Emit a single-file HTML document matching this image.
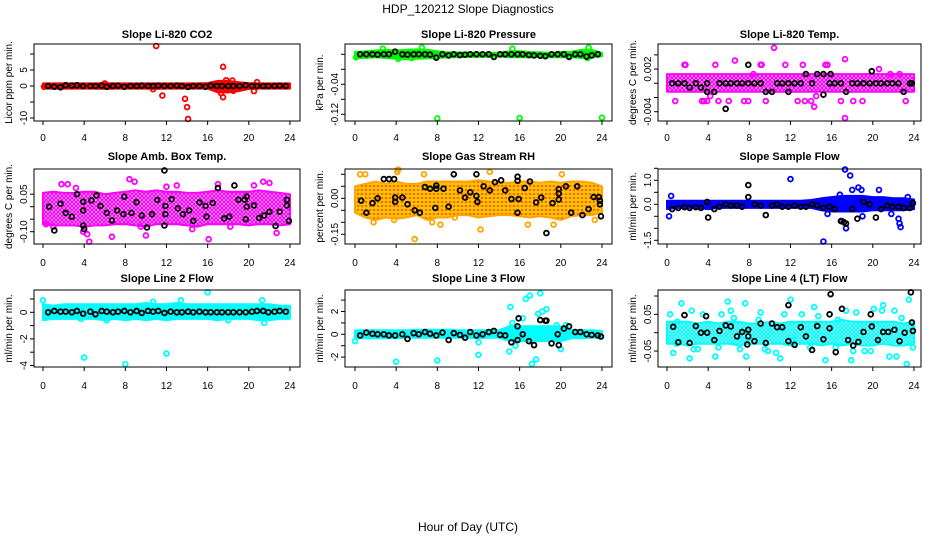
<!DOCTYPE html>
<html><head><meta charset="utf-8"><title>HDP_120212 Slope Diagnostics</title>
<style>
html,body{margin:0;padding:0;background:#fff;}
svg{display:block;font-family:"Liberation Sans",sans-serif;}
</style></head>
<body>
<svg id="chart" width="936" height="540" viewBox="0 0 936 540" xmlns="http://www.w3.org/2000/svg">
<defs>
<pattern id="pat-magenta" width="4" height="4" patternUnits="userSpaceOnUse"><rect width="4" height="4" fill="#ffffff"/><circle cx="2" cy="2" r="1.5" fill="none" stroke="#ff00ff" stroke-width="1.4"/></pattern>
<pattern id="pat-rh" width="4" height="4" patternUnits="userSpaceOnUse"><rect width="4" height="4" fill="#ffc000"/><circle cx="2" cy="2" r="0.9" fill="#ff2000"/></pattern>
<pattern id="pat-cyan" width="4" height="4" patternUnits="userSpaceOnUse"><rect width="4" height="4" fill="#ffffff"/><circle cx="2" cy="2" r="1.5" fill="none" stroke="#00ffff" stroke-width="1.4"/></pattern>
</defs>
<text x="468" y="13" text-anchor="middle" font-size="12">HDP_120212  Slope Diagnostics</text>
<text x="468" y="531" text-anchor="middle" font-size="12">Hour of Day (UTC)</text>
</svg>
<script>
// ---------- shared data ----------
const bandHours = [0,1,2,3,4,5,6,7,8,9,10,11,12,13,14,15,16,17,18,19,20,21,22,23,24];
const hourlyX = [0.5,1.1,1.7,2.2,2.8,3.3,3.9,4.6,5.1,5.7,6.2,6.8,7.3,7.9,8.5,9.1,9.6,10.2,10.7,11.2,11.8,12.4,13.0,13.5,14.1,14.6,15.2,15.8,16.3,16.9,17.4,18.0,18.5,19.1,19.7,20.3,20.8,21.4,21.9,22.5,23.0,23.6];
const xTicks = [0,4,8,12,16,20,24];

// ---------- CO2 ----------
const co2BandLo = [-0.8,-0.8,-0.8,-0.8,-0.8,-0.8,-0.9,-0.8,-0.8,-0.8,-0.8,-0.9,-0.8,-0.8,-0.8,-0.8,-0.8,-2.0,-2.0,-1.6,-0.9,-0.8,-0.8,-0.8,-0.8];
const co2BandHi = [0.8,0.8,0.8,0.8,0.8,0.8,0.9,0.8,0.8,0.8,0.8,0.8,0.8,0.8,0.8,0.8,0.9,1.6,1.6,1.2,0.9,0.8,0.8,0.8,0.8];
const co2PtsX = [11.0,11.6,13.8,14.0,14.1,17.5,17.5,17.8,18.4,18.5,20.5,20.8,0.1,6.0,10.7,17.3,17.9];
const co2PtsY = [12.5,-3.0,-4.0,-6.6,-10.3,6.0,-3.5,1.8,1.7,-1.5,-1.6,1.2,-0.2,0.8,-1.0,-2.2,-1.3];
const co2BlackY = [0,-0.2,-0.4,0.2,0.1,0.2,0,0,0,0.1,-0.2,0,0.1,-0.2,0,0,0.1,0,0,0.1,0,0,0.1,0,-0.3,0,0,-0.2,0.1,0,0,0,0,0,0.2,0,0,0,0,0,0.1,0];
const co2Ticks = [-10,-5,0,5,10];
const co2TickLabels = ["-10","","0","5",""];

// ---------- Pressure ----------
const presBandLo = [0.030,0.030,0.032,0.030,0.028,0.027,0.028,0.029,0.030,0.032,0.032,0.033,0.033,0.033,0.034,0.032,0.032,0.032,0.033,0.032,0.032,0.032,0.030,0.032,0.035];
const presBandHi = [0.046,0.048,0.050,0.052,0.050,0.052,0.053,0.052,0.048,0.045,0.045,0.044,0.044,0.044,0.044,0.048,0.048,0.046,0.045,0.044,0.046,0.047,0.052,0.052,0.044];
const presPtsX = [8.0,16.0,24.0,2.7,6.5,15.3,22.7,5.5,4.2,0.1,22.6];
const presPtsY = [-0.131,-0.130,-0.129,0.055,0.058,0.055,0.058,0.030,0.028,0.032,0.030];
const presBlackY = [0.04,0.04,0.04,0.039,0.04,0.04,0.047,0.04,0.039,0.04,0.04,0.04,0.039,0.031,0.04,0.037,0.04,0.038,0.039,0.04,0.04,0.04,0.04,0.033,0.04,0.04,0.04,0.04,0.04,0.038,0.037,0.036,0.035,0.04,0.04,0.04,0.033,0.04,0.04,0.034,0.037,0.04];
const presTicks = [0.04,0,-0.04,-0.08,-0.12];
const presTickLabels = ["","","-0.04","","-0.12"];

// ---------- Li-820 Temp ----------
const tempBandLo = [-0.0012,-0.0012,-0.0012,-0.0012,-0.0012,-0.0012,-0.0012,-0.0012,-0.0012,-0.0012,-0.0012,-0.0012,-0.0012,-0.0012,-0.0012,-0.0012,-0.0012,-0.0012,-0.0012,-0.0012,-0.0012,-0.0012,-0.0012,-0.0012,-0.0012];
const tempBandHi = [0.0013,0.0013,0.0013,0.0013,0.0013,0.0013,0.0013,0.0013,0.0013,0.0013,0.0013,0.0013,0.0013,0.0013,0.0013,0.0013,0.0013,0.0013,0.0013,0.0013,0.0013,0.0013,0.0013,0.0013,0.0013];
const tempPtsX = [0.8,1.7,1.8,3.4,3.6,4.7,6.6,6.0,7.9,8.4,9.1,9.2,9.6,10.4,11.5,13.2,13.4,14.0,14.3,15.4,15.6,16.9,17.3,17.3,18.1,19.0,20.6,21.7,22.6,23.2,12.7,5.0,7.5,3.9,4.2,14.5];
const tempPtsY = [-0.0025,0.0026,0.0026,-0.0025,-0.0025,0.0026,0.0032,-0.0025,-0.0025,0.0013,0.0026,0.0026,-0.0025,0.005,0.0026,0.0026,-0.0025,-0.0025,-0.0033,0.0026,0.0026,-0.0025,0.0034,-0.0049,-0.0025,-0.0025,0.002,0.0013,0.0013,-0.0025,-0.0025,-0.0025,-0.0025,-0.0025,-0.0018,-0.0018];
const tempBlackX = [...hourlyX, 7.9, 15.9, 19.9, 5.7, 15.2, 3.9, 11.8, 23.8];
const tempBlackY = [0,0,0,-0.0006,0,-0.0006,0,-0.0012,0,0,0,0,0,0,0,0,-0.0012,-0.0012,0,0,0,0,0,0.0013,0,0.0013,0.0013,0,0,0,-0.0012,0,0,0,0,0,0,0,0,0,-0.0012,0,0.0026,0.0013,0.0017,-0.0036,-0.0016,-0.0012,-0.0012,0];
const tempTicks = [0.004,0.002,0,-0.002,-0.004];
const tempTickLabels = ["","0.002","","","-0.004"];

// ---------- Amb. Box Temp ----------
const ambBandLo = [-0.07,-0.075,-0.075,-0.075,-0.08,-0.075,-0.075,-0.07,-0.07,-0.075,-0.08,-0.07,-0.07,-0.07,-0.075,-0.08,-0.07,-0.07,-0.07,-0.07,-0.075,-0.07,-0.07,-0.075,-0.07];
const ambBandHi = [0.055,0.06,0.055,0.055,0.06,0.06,0.05,0.055,0.06,0.065,0.06,0.065,0.06,0.06,0.055,0.055,0.06,0.065,0.06,0.06,0.06,0.065,0.06,0.055,0.05];
const ambPtsX = [0.3,1.8,2.4,4.3,4.5,6.7,8.4,8.9,10.0,13.0,16.1,17.0,21.4,22.0,22.7,9.5,3.9,3.2,14.5,18.2,1.0,12.0,20.5];
const ambPtsY = [-0.07,0.09,0.09,-0.11,-0.14,-0.12,0.11,0.10,-0.115,0.085,-0.13,0.09,0.10,0.095,-0.105,-0.08,-0.10,0.075,-0.09,-0.08,-0.08,0.08,0.085];
const ambBlackX = [0.6,1.1,1.7,2.2,2.8,3.3,3.9,3.9,3.9,4.0,4.7,5.2,5.6,6.2,6.7,7.2,7.8,7.9,8.6,9.1,9.6,10.1,10.6,11.1,11.8,11.9,11.8,11.9,12.5,13.1,13.6,14.2,14.6,15.2,15.8,15.9,16.5,17.0,17.6,18.1,18.6,19.0,19.6,19.7,19.8,19.8,20.5,21.0,21.5,22.0,22.6,23.0,23.7,23.7,23.9];
const ambBlackY = [0,-0.095,0.012,-0.025,-0.04,0.05,0.02,-0.015,-0.075,-0.09,0.025,0.045,0.003,-0.025,-0.055,-0.015,-0.03,0.04,-0.025,0.018,-0.035,-0.083,-0.03,0.027,0.145,0.003,-0.075,-0.03,0.03,-0.007,-0.03,-0.015,-0.057,0.017,0.003,-0.04,0.015,0.075,-0.047,-0.04,0.085,0.028,0.028,-0.05,0,0.04,0.005,-0.045,-0.035,-0.02,-0.077,-0.02,0.028,0.005,-0.057];
const ambTicks = [0.05,0,-0.05,-0.10];
const ambTickLabels = ["0.05","","","-0.10"];

// ---------- Gas Stream RH ----------
const rhBandLo = [-0.06,-0.08,-0.09,-0.08,-0.085,-0.08,-0.07,-0.09,-0.08,-0.08,-0.07,-0.07,-0.08,-0.075,-0.07,-0.07,-0.075,-0.08,-0.075,-0.08,-0.09,-0.075,-0.07,-0.07,-0.06];
const rhBandHi = [0.05,0.06,0.07,0.06,0.07,0.06,0.06,0.07,0.07,0.07,0.07,0.07,0.075,0.07,0.065,0.065,0.07,0.07,0.065,0.07,0.065,0.07,0.07,0.065,0.05];
const rhPtsX = [0.5,1.0,4.2,6.7,5.8,12.2,13.1,16.8,19.3,8.3,1.8,23.3,4.1,7.5,3.8,9.7,20.1];
const rhPtsY = [0.10,0.10,0.12,0.10,-0.17,-0.13,0.11,-0.11,-0.11,-0.11,-0.10,-0.09,0.11,-0.1,-0.09,-0.08,0.1];
const rhBlackX = [0.6,1.1,1.7,2.2,2.8,3.3,3.8,3.9,3.9,4.6,5.1,5.8,6.3,6.8,7.3,7.9,7.9,7.8,8.6,9.1,9.6,10.2,10.7,11.2,11.8,11.8,11.9,12.5,13.1,13.6,14.2,14.6,15.2,15.8,15.8,15.9,15.8,16.5,17.0,17.6,18.1,18.6,19.2,19.8,19.8,19.8,20.5,21.0,21.6,22.1,22.7,23.2,23.7,23.8,23.8,23.9];
const rhBlackY = [-0.01,-0.06,-0.02,0.0,0.08,0.08,0.08,0.003,-0.015,0.003,-0.025,-0.05,-0.06,0.047,0.04,0.053,0.04,-0.04,0.04,-0.035,0.1,0.033,0.003,0.025,0.1,0.01,-0.015,0.05,0.033,0.067,0.075,0.033,-0.003,0.09,0.073,-0.003,-0.06,0.043,0.07,-0.017,0.003,-0.145,-0.02,0.038,0.02,-0.005,0.05,-0.06,0.05,-0.07,-0.045,0.005,0.005,-0.01,-0.025,-0.075];
const rhTicks = [0.10,0.05,0,-0.05,-0.10,-0.15];
const rhTickLabels = ["","","0.00","","","-0.15"];

// ---------- Sample Flow ----------
const sampBandLo = [-0.2,-0.15,-0.15,-0.15,-0.2,-0.15,-0.15,-0.15,-0.15,-0.15,-0.15,-0.15,-0.15,-0.15,-0.15,-0.25,-0.3,-0.3,-0.3,-0.3,-0.25,-0.25,-0.25,-0.25,-0.2];
const sampBandHi = [0.15,0.15,0.15,0.15,0.15,0.15,0.15,0.15,0.15,0.15,0.15,0.15,0.15,0.15,0.18,0.25,0.3,0.35,0.35,0.35,0.3,0.3,0.25,0.25,0.2];
const sampPtsX = [0.2,0.4,12.0,15.2,17.3,17.8,18.0,18.6,18.9,20.6,17.0,17.4,22.5,22.6,22.7,19.0,16.8,15.6,21.8,23.4];
const sampPtsY = [-0.5,0.35,1.05,-1.55,1.45,1.2,0.6,0.7,0.6,0.6,-0.7,-1.0,-0.6,-0.8,-0.95,-0.5,0.4,-0.4,-0.4,0.3];
const sampBlackX = [...hourlyX, 7.9, 4.0, 17.2, 23.9];
const sampBlackY = [-0.2,-0.15,-0.12,-0.15,-0.12,-0.15,0.1,-0.2,-0.1,0.0,-0.05,-0.05,-0.1,0.3,0.0,-0.05,-0.45,-0.05,0,-0.1,-0.1,-0.05,-0.1,-0.1,0,-0.05,-0.15,-0.1,-0.2,-0.7,-0.8,-0.2,-0.6,0.1,0,-0.55,-0.2,-0.05,-0.1,-0.1,-0.15,-0.15,0.8,-0.55,-0.75,0.05];
const sampTicks = [1.5,1.0,0.5,0,-0.5,-1.0,-1.5];
const sampTickLabels = ["","1.0","","0.0","","","-1.5"];

// ---------- Line 2 Flow ----------
const l2BandLo = [-0.6,-0.5,-0.5,-0.5,-0.5,-0.5,-0.6,-0.5,-0.6,-0.5,-0.6,-0.5,-0.6,-0.5,-0.5,-0.5,-0.5,-0.6,-0.5,-0.5,-0.5,-0.6,-0.6,-0.5,-0.5];
const l2BandHi = [0.6,0.5,0.6,0.6,0.6,0.6,0.6,0.6,0.6,0.6,0.7,0.6,0.6,0.7,0.6,0.6,0.6,0.6,0.6,0.6,0.6,0.6,0.6,0.5,0.5];
const l2PtsX = [0.0,4.0,8.0,12.0,16.0,21.3,21.5,18.0,3.7,10.7,13.4,6.2];
const l2PtsY = [0.9,-3.4,-3.9,-3.1,1.5,0.9,-0.8,-0.6,-0.5,0.8,0.9,-0.6];
const l2BlackY = [0,0.1,0.05,0.05,0,0.1,-0.1,0.05,-0.15,0.1,0.05,0,0.05,0.1,0,0.1,-0.05,0.1,0.05,0.1,-0.05,0.05,0,0,0.05,0,0.05,0,0,0,0,0,0,0,0,0.05,0.1,0.1,0,0.05,0.1,0.05];
const l2Ticks = [1,0,-1,-2,-3,-4];
const l2TickLabels = ["","0","","-2","","-4"];

// ---------- Line 3 Flow ----------
const l3BandLo = [-0.35,-0.35,-0.35,-0.35,-0.35,-0.3,-0.3,-0.3,-0.3,-0.3,-0.3,-0.3,-0.35,-0.3,-0.3,-0.6,-0.6,-0.6,-0.6,-0.6,-0.6,-0.35,-0.35,-0.3,-0.3];
const l3BandHi = [0.35,0.35,0.35,0.35,0.35,0.35,0.4,0.4,0.4,0.4,0.35,0.35,0.35,0.35,0.35,0.7,0.7,0.7,0.7,0.7,0.7,0.4,0.35,0.35,0.3];
const l3PtsX = [0.0,4.0,8.0,12.0,15.1,15.3,15.0,16.6,17.0,18.0,17.8,18.6,18.2,17.2,17.6,20.0,19.6,12.0,16.3,20.5,15.6];
const l3PtsY = [-0.6,-2.4,-2.3,-1.8,2.4,1.0,-1.5,3.1,3.4,3.6,1.8,2.2,2.0,-2.6,-2.2,-1.3,0.8,-0.7,1.4,0.8,-1.0];
const l3BlackX = [...hourlyX, 15.9, 15.8, 18.6, 19.8, 23.9];
const l3BlackY = [-0.1,0.15,0.05,0,0,-0.1,-0.1,0,-0.4,0.1,0,0.2,0.05,-0.1,0.15,-0.5,0.1,-0.05,-0.3,0.2,-0.1,0,0.2,0.3,-0.05,-0.1,-0.7,0.7,0,-0.6,-0.95,1.25,1.2,-0.8,0,0.5,0.7,0.2,0.2,0,-0.05,-0.1,1.4,-0.5,1.2,-0.95,-0.2];
const l3Ticks = [3,2,1,0,-1,-2];
const l3TickLabels = ["","2","","0","","-2"];

// ---------- Line 4 (LT) Flow ----------
const l4BandLo = [-0.03,-0.03,-0.035,-0.03,-0.03,-0.03,-0.03,-0.035,-0.03,-0.03,-0.03,-0.03,-0.035,-0.03,-0.03,-0.035,-0.03,-0.035,-0.03,-0.035,-0.035,-0.03,-0.035,-0.035,-0.03];
const l4BandHi = [0.03,0.03,0.03,0.025,0.03,0.025,0.03,0.03,0.025,0.025,0.03,0.025,0.03,0.03,0.03,0.03,0.03,0.035,0.03,0.03,0.03,0.03,0.03,0.025,0.03];
const l4PtsX = [0.3,0.6,1.4,2.2,2.4,2.6,3.5,4.7,5.3,5.9,6.2,7.1,7.6,7.7,9.1,9.8,10.6,11.0,12.0,12.2,13.1,14.3,15.4,15.8,16.4,17.4,18.1,18.4,19.2,20.1,20.9,21.6,22.1,22.3,23.3,23.5,23.9,1.0,3.0,8.9,13.9,17.9,19.8,21.0,16.6,11.4,5.0,0.9,6.5,9.5,14.7,22.8];
const l4PtsY = [0.05,-0.055,0.08,-0.07,0.06,-0.045,0.05,-0.065,0.05,0.085,0.06,-0.045,0.08,-0.065,0.055,-0.05,-0.055,-0.07,0.09,-0.02,0.05,0.07,-0.075,0.05,-0.04,0.06,-0.05,0.055,-0.05,0.065,0.06,-0.065,0.06,-0.065,-0.085,0.09,-0.04,0.03,-0.045,0.035,-0.04,-0.075,-0.05,0.075,0.035,0.05,-0.04,-0.03,0.04,-0.045,0.045,0.04];
const l4BlackX = [0.6,1.1,1.7,2.2,2.8,3.3,3.8,3.9,4.6,5.1,5.7,6.2,6.8,7.3,7.8,7.9,7.9,8.5,9.1,9.6,10.2,10.7,11.2,11.8,11.8,12.4,13.0,13.5,14.1,14.6,15.2,15.8,15.8,15.9,16.4,17.0,17.6,18.1,18.6,19.1,19.8,19.9,20.5,21.0,21.5,22.1,22.6,23.1,23.7,23.8,23.9];
const l4BlackY = [0.016,-0.026,0.048,-0.028,0.018,0,0.045,0,-0.02,0.005,0.02,0.017,-0.01,0.002,-0.032,0.008,-0.01,-0.023,0.025,-0.028,0.025,0.015,0.015,0.075,-0.023,-0.033,0.015,-0.01,-0.047,0.018,-0.018,0.05,0.012,0.105,-0.053,0.065,-0.02,-0.035,-0.025,0.002,0.05,0.017,-0.02,0.002,0.002,0.008,-0.023,0.0,0.11,0.028,0.005];
const l4Ticks = [0.10,0.05,0,-0.05];
const l4TickLabels = ["","0.05","","-0.05"];

// ---------- layout (geometry, not data) ----------
const colBoxL = [34,345,658], colBoxR = [300,612,921], colX0 = [43,355,667];
const xPerHour = 10.29;
const rowBoxT = [44,169,290], rowBoxB = [121,244,367];
const rowTitleY = [38,160,282], rowXLabY = [141,266,389];

const panels = [
 {key:'co2', title:'Slope Li-820 CO2', ylab:'Licor ppm per min.', c:0,r:0, zero:86, ppu:3.2, col:'#ff0000', fill:'#ff0000', lo:co2BandLo, hi:co2BandHi, px:co2PtsX, py:co2PtsY, bx:hourlyX, by:co2BlackY, ticks:co2Ticks, tl:co2TickLabels},
 {key:'pressure', title:'Slope Li-820 Pressure', ylab:'kPa per min.', c:1,r:0, zero:69.3, ppu:375, col:'#00ff00', fill:'#00ee00', lo:presBandLo, hi:presBandHi, px:presPtsX, py:presPtsY, bx:hourlyX, by:presBlackY, ticks:presTicks, tl:presTickLabels},
 {key:'li820-temp', title:'Slope Li-820 Temp.', ylab:'degrees C per min.', c:2,r:0, zero:83.3, ppu:7100, col:'#ff00ff', fill:'url(#pat-magenta)', lo:tempBandLo, hi:tempBandHi, px:tempPtsX, py:tempPtsY, bx:tempBlackX, by:tempBlackY, ticks:tempTicks, tl:tempTickLabels},
 {key:'amb-box-temp', title:'Slope Amb. Box Temp.', ylab:'degrees C per min.', c:0,r:1, zero:206.7, ppu:250, col:'#ff00ff', fill:'url(#pat-magenta)', lo:ambBandLo, hi:ambBandHi, px:ambPtsX, py:ambPtsY, bx:ambBlackX, by:ambBlackY, ticks:ambTicks, tl:ambTickLabels},
 {key:'gas-stream-rh', title:'Slope Gas Stream RH', ylab:'percent per min.', c:1,r:1, zero:198.3, ppu:240, col:'#ffa500', fill:'url(#pat-rh)', lo:rhBandLo, hi:rhBandHi, px:rhPtsX, py:rhPtsY, bx:rhBlackX, by:rhBlackY, ticks:rhTicks, tl:rhTickLabels},
 {key:'sample-flow', title:'Slope Sample Flow', ylab:'ml/min per min.', c:2,r:1, zero:204.3, ppu:24, col:'#0000ff', fill:'#0000ff', lo:sampBandLo, hi:sampBandHi, px:sampPtsX, py:sampPtsY, bx:sampBlackX, by:sampBlackY, ticks:sampTicks, tl:sampTickLabels},
 {key:'line2-flow', title:'Slope Line 2 Flow', ylab:'ml/min per min.', c:0,r:2, zero:312.3, ppu:13.3, col:'#00ffff', fill:'#00ffff', lo:l2BandLo, hi:l2BandHi, px:l2PtsX, py:l2PtsY, bx:hourlyX, by:l2BlackY, ticks:l2Ticks, tl:l2TickLabels},
 {key:'line3-flow', title:'Slope Line 3 Flow', ylab:'ml/min per min.', c:1,r:2, zero:334.3, ppu:11.4, col:'#00ffff', fill:'#00ffff', lo:l3BandLo, hi:l3BandHi, px:l3PtsX, py:l3PtsY, bx:l3BlackX, by:l3BlackY, ticks:l3Ticks, tl:l3TickLabels},
 {key:'line4-flow', title:'Slope Line 4 (LT) Flow', ylab:'ml/min per min.', c:2,r:2, zero:332.7, ppu:367, col:'#00ffff', fill:'url(#pat-cyan)', lo:l4BandLo, hi:l4BandHi, px:l4PtsX, py:l4PtsY, bx:l4BlackX, by:l4BlackY, ticks:l4Ticks, tl:l4TickLabels}
];

const NS = 'http://www.w3.org/2000/svg';
const svg = document.getElementById('chart');
function mk(tag, parent){ const e = document.createElementNS(NS, tag); parent.appendChild(e); return e; }

panels.forEach(p => {
  const xs = h => colX0[p.c] + h * xPerHour;
  const ys = v => p.zero - v * p.ppu;
  const L = colBoxL[p.c], R = colBoxR[p.c], T = rowBoxT[p.r], B = rowBoxB[p.r];
  const g = mk('g', svg);
  
  

  const band = mk('polygon', g);
  
  
  const top = bandHours.map((h,i) => xs(h).toFixed(1) + ',' + ys(p.hi[i]).toFixed(1));
  const bot = bandHours.map((h,i) => xs(h).toFixed(1) + ',' + ys(p.lo[i]).toFixed(1)).reverse();
  band.setAttribute('points', top.concat(bot).join(' '));
  band.setAttribute('fill', p.fill);
  band.setAttribute('stroke', p.col);
  band.setAttribute('stroke-width', '2');
  band.setAttribute('stroke-linejoin', 'round');

  p.px.forEach((h,i) => {
    const c = mk('circle', g);
    
    
    c.setAttribute('cx', xs(h)); c.setAttribute('cy', ys(p.py[i])); c.setAttribute('r', 2.4);
    c.setAttribute('fill', 'none'); c.setAttribute('stroke', p.col); c.setAttribute('stroke-width', 1.8);
  });
  p.bx.forEach((h,i) => {
    const c = mk('circle', g);
    
    
    c.setAttribute('cx', xs(h)); c.setAttribute('cy', ys(p.by[i])); c.setAttribute('r', 2.4);
    c.setAttribute('fill', 'none'); c.setAttribute('stroke', '#000'); c.setAttribute('stroke-width', 1.8);
  });

  const box = mk('rect', g);
  
  
  box.setAttribute('x', L); box.setAttribute('y', T); box.setAttribute('width', R-L); box.setAttribute('height', B-T);
  box.setAttribute('fill', 'none'); box.setAttribute('stroke', '#000'); box.setAttribute('stroke-width', 1);

  const t = mk('text', g);
  
  
  t.setAttribute('x', (L+R)/2); t.setAttribute('y', rowTitleY[p.r]);
  t.setAttribute('text-anchor', 'middle'); t.setAttribute('font-size', '11'); t.setAttribute('font-weight', 'bold');
  t.textContent = p.title;

  const xa = mk('line', g);
  
  
  xa.setAttribute('x1', xs(xTicks[0])); xa.setAttribute('x2', xs(xTicks[xTicks.length-1]));
  xa.setAttribute('y1', B); xa.setAttribute('y2', B); xa.setAttribute('stroke', '#000');
  xTicks.forEach(v => {
    const tk = mk('line', g);
    
    
    tk.setAttribute('x1', xs(v)); tk.setAttribute('x2', xs(v)); tk.setAttribute('y1', B); tk.setAttribute('y2', B+4);
    tk.setAttribute('stroke', '#000');
    const lb = mk('text', g);
    
    
    lb.setAttribute('x', xs(v)); lb.setAttribute('y', rowXLabY[p.r]);
    lb.setAttribute('text-anchor', 'middle'); lb.setAttribute('font-size', '10');
    lb.textContent = String(v);
  });

  const tys = p.ticks.map(ys);
  const ya = mk('line', g);
  
  
  ya.setAttribute('x1', L); ya.setAttribute('x2', L);
  ya.setAttribute('y1', Math.max(T, Math.min(...tys))); ya.setAttribute('y2', Math.min(B, Math.max(...tys)));
  ya.setAttribute('stroke', '#000');
  p.ticks.forEach((v,i) => {
    const y = ys(v);
    const tk = mk('line', g);
    
    
    tk.setAttribute('x1', L-4); tk.setAttribute('x2', L); tk.setAttribute('y1', y); tk.setAttribute('y2', y);
    tk.setAttribute('stroke', '#000');
    if (p.tl[i]) {
      const lb = mk('text', g);
      
      
      lb.setAttribute('transform', 'translate(' + (L-7) + ',' + y + ') rotate(-90)');
      lb.setAttribute('text-anchor', 'middle'); lb.setAttribute('font-size', '10');
      lb.textContent = p.tl[i];
    }
  });
  const yl = mk('text', g);
  
  
  yl.setAttribute('transform', 'translate(' + (L-22) + ',' + ((T+B)/2) + ') rotate(-90)');
  yl.setAttribute('text-anchor', 'middle'); yl.setAttribute('font-size', '10');
  yl.textContent = p.ylab;
});
</script>
</body></html>
